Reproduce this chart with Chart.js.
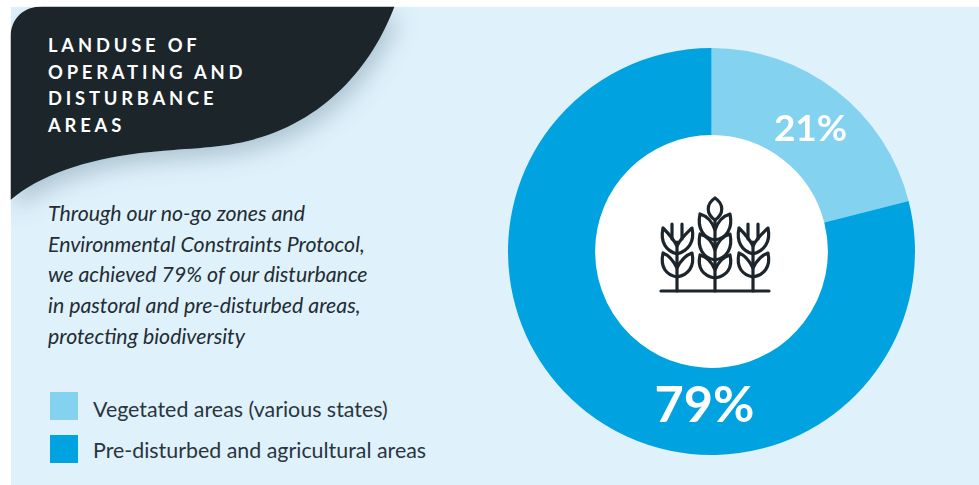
<!DOCTYPE html>
<html>
<head>
<meta charset="utf-8">
<script src="https://cdn.jsdelivr.net/npm/chart.js@4"></script>
<style>
  html, body { margin: 0; padding: 0; background: #fff; overflow: hidden; }
  body { width: 979px; height: 485px; position: relative; font-family: Lato, sans-serif; }
  #panel { position: absolute; left: 10.5px; top: 6.5px; width: 969px; height: 479px; background: #dff1fb; }
  #shape { position: absolute; left: 0; top: 0; }
  #title { position: absolute; left: 48px; top: 32.4px; color: #fff; font-weight: 700; font-size: 18.4px; line-height: 26.5px; letter-spacing: 3.8px; }
  #intro { position: absolute; left: 48px; top: 198px; color: #232c33; font-style: italic; font-size: 21.3px; line-height: 30.7px; }
  .key { position: absolute; left: 50px; width: 28px; height: 28px; }
  .keytext { position: absolute; left: 93px; color: #2a353d; font-size: 21.4px; line-height: 28px; white-space: nowrap; }
  #chartbox { position: absolute; left: 508px; top: 48px; width: 407px; height: 407px; }
  #icon { position: absolute; left: 640px; top: 180px; }
</style>
</head>
<body>
<div id="panel"></div>

<svg id="shape" width="979" height="485">
  <defs>
    <filter id="soft" x="-20%" y="-20%" width="150%" height="150%">
      <feDropShadow dx="5" dy="10" stdDeviation="11" flood-color="#5f7f90" flood-opacity="0.38"/>
    </filter>
    <clipPath id="panelclip"><rect x="10.5" y="6.5" width="969" height="479"/></clipPath>
  </defs>
  <g clip-path="url(#panelclip)">
    <path filter="url(#soft)" fill="#1d252c"
      d="M10.5 200 V38 C10.5 18 24 6.5 42 6.5 H394.5 C372 66 325 122 248 141 C215 149 185 148 140 153 C85 160 40 175 10.5 200 Z"/>
  </g>
</svg>

<div id="title"></div>
<div id="intro"></div>
<div id="keys"></div>

<div id="chartbox"><canvas id="myChart"></canvas></div>

<svg id="icon" width="150" height="130" fill="none" stroke="#1d252c" stroke-width="3.2" stroke-linecap="round" stroke-linejoin="round">
  <!-- ground and stalks -->
  <path d="M21 111 H129"/>
  <path d="M37 111 V62 M75 111 V40 M113 111 V62"/>
  <!-- centre plant -->
  <path d="M75 18 C66 24 66 34 75 40 C84 34 84 24 75 18 Z"/>
  <path d="M60 34 C57 48 63 58 75 60 C87 58 93 48 90 34 C83 36 78 41 75 50 C72 41 67 36 60 34 Z"/>
  <path d="M60 54 C57 68 63 78 75 80 C87 78 93 68 90 54 C83 56 78 61 75 70 C72 61 67 56 60 54 Z"/>
  <path d="M60 75 C57 88 63 96 75 98 C87 96 93 88 90 75 C83 77 78 82 75 90 C72 82 67 77 60 75 Z"/>
  <!-- left plant -->
  <path d="M23 48 C20 62 26 71 37 74 C48 71 55 62 52 48 C47 53 41 58 37 66 C33 58 28 53 23 48 Z"/>
  <path d="M23 73 C20 87 26 95 37 97 C48 95 55 87 52 73 C46 75 41 80 37 88 C33 80 28 75 23 73 Z"/>
  <path d="M32 44 V59 M42 44 V59"/>
  <!-- right plant -->
  <path d="M99 48 C96 62 102 71 113 74 C124 71 131 62 128 48 C123 53 117 58 113 66 C109 58 104 53 99 48 Z"/>
  <path d="M99 73 C96 87 102 95 113 97 C124 95 131 87 128 73 C122 75 117 80 113 88 C109 80 104 75 99 73 Z"/>
  <path d="M108 44 V59 M118 44 V59"/>
</svg>

<script>
const categories = ["Vegetated areas (various states)", "Pre-disturbed and agricultural areas"];
const shares = [21, 79];
const sliceColors = ["#82d2f0", "#00a3e0"];
const titleLines = ["LANDUSE OF", "OPERATING AND", "DISTURBANCE", "AREAS"];
const introLines = [
  "Through our no-go zones and",
  "Environmental Constraints Protocol,",
  "we achieved 79% of our disturbance",
  "in pastoral and pre-disturbed areas,",
  "protecting biodiversity"
];

document.getElementById("title").innerHTML = titleLines.join("<br>");
document.getElementById("intro").innerHTML = introLines.join("<br>");

// legend squares and text
const keys = document.getElementById("keys");
categories.forEach((name, i) => {
  const top = 392 + i * 43;
  const textTop = 395 + i * 41;
  keys.innerHTML += `<div class="key" style="top:${top}px;background:${sliceColors[i]}"></div>` +
    `<div class="keytext" style="top:${textTop}px">${name}</div>`;
});

// percent labels: the small slice sits on its arc, the big one at the bottom of the ring
const percentLabels = {
  id: "percentLabels",
  afterDatasetsDraw(chart) {
    const ctx = chart.ctx;
    const arcs = chart.getDatasetMeta(0).data;
    ctx.save();
    ctx.fillStyle = "#fff";
    ctx.textAlign = "center";
    ctx.textBaseline = "middle";

    const small = arcs[0].getCenterPoint();
    ctx.font = "700 37px Lato";
    ctx.fillText(shares[0] + "%", small.x + 1, small.y + 4);

    const big = arcs[1];
    ctx.font = "700 50.5px Lato";
    ctx.fillText(shares[1] + "%", big.x - 7, big.y + 154);
    ctx.restore();
  }
};

new Chart(document.getElementById("myChart"), {
  type: "doughnut",
  data: {
    labels: categories,
    datasets: [{
      data: shares,
      backgroundColor: sliceColors,
      borderWidth: 0
    }]
  },
  options: {
    responsive: true,
    maintainAspectRatio: false,
    animation: false,
    cutout: "57.2%",
    plugins: {
      legend: { display: false },
      tooltip: { enabled: false }
    }
  },
  plugins: [percentLabels, {
    // white hole behind the icon
    id: "hole",
    beforeDatasetsDraw(chart) {
      const arc = chart.getDatasetMeta(0).data[0];
      const ctx = chart.ctx;
      ctx.save();
      ctx.fillStyle = "#fff";
      ctx.beginPath();
      ctx.arc(arc.x, arc.y, arc.innerRadius + 1, 0, Math.PI * 2);
      ctx.fill();
      ctx.restore();
    }
  }]
});
</script>
</body>
</html>
